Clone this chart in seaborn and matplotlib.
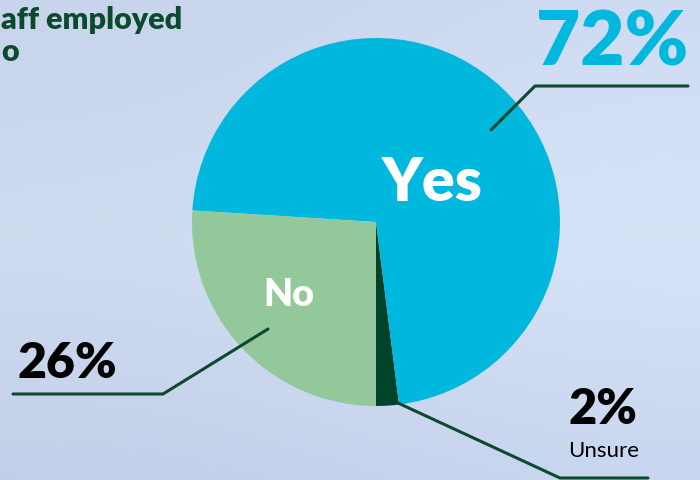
import numpy as np
import matplotlib
matplotlib.use("Agg")
import matplotlib.pyplot as plt
import seaborn as sns

sns.set_theme(style="white")
plt.rcParams['font.family'] = ['Lato', 'DejaVu Sans']

### Data ###
answers = ["Unsure", "Yes", "No"]
shares = [2, 72, 26]
colours = sns.color_palette(["#00432a", "#00b8de", "#93c89a"])

### Figure ###
fig = plt.figure(figsize=(7, 4.8), dpi=100)
ax = fig.add_axes([0, 0, 1, 1])

# sky background
sky = np.array([[0.78, 0.83, 0.92], [0.81, 0.86, 0.94], [0.76, 0.81, 0.91]])
yy = np.linspace(0, 1, 200)
grad = np.zeros((200, 2, 3))
for c in range(3):
    grad[:, 0, c] = np.interp(yy, [0, 0.5, 1], sky[::-1, c])
    grad[:, 1, c] = np.interp(yy, [0, 0.5, 1], sky[::-1, c]) + 0.03
ax.imshow(np.clip(grad, 0, 1), extent=[0, 700, 0, 480], origin='lower',
          aspect='auto', interpolation='bicubic', zorder=0)

wedges, _ = ax.pie(shares, colors=colours, startangle=-90, counterclock=True,
                   center=(376, 258), radius=184, frame=True,
                   wedgeprops=dict(linewidth=0, zorder=2))
ax.set_xlim(0, 700)
ax.set_ylim(0, 480)
ax.set_aspect('equal')
ax.axis('off')

line_c = "#0b4a2c"
# leader lines
ax.plot([491, 535, 688], [480 - 130, 480 - 86, 480 - 86], color=line_c, lw=2.2, zorder=3)
ax.plot([268, 163, 13], [480 - 329, 480 - 394, 480 - 394], color=line_c, lw=2.2, zorder=3)
ax.plot([398, 560, 648], [480 - 403, 480 - 478, 480 - 478], color=line_c, lw=2.2, zorder=3)

# labels
ax.text(612, 480 - 44, "72%", color="#00b8de", fontsize=55, fontweight='heavy',
        ha='center', va='center', zorder=4)
ax.text(432, 480 - 183, "Yes", color="white", fontsize=44, fontweight='heavy',
        ha='center', va='center', zorder=4)
ax.text(289, 480 - 295, "No", color="white", fontsize=27, fontweight='heavy',
        ha='center', va='center', zorder=4)
ax.text(67, 480 - 363, "26%", color="black", fontsize=36, fontweight='heavy',
        ha='center', va='center', zorder=4)
ax.text(603, 480 - 410, "2%", color="black", fontsize=35, fontweight='heavy',
        ha='center', va='center', zorder=4)
ax.text(604, 480 - 451, "Unsure", color="black", fontsize=16,
        ha='center', va='center', zorder=4)

# cut-off title
ax.text(1, 480 - 20, "aff employed", color="#0b4a2c", fontsize=22, fontweight='heavy',
        ha='left', va='center', zorder=4)
ax.text(1, 480 - 52, "o", color="#0b4a2c", fontsize=22, fontweight='heavy',
        ha='left', va='center', zorder=4)

fig.savefig("out.png", dpi=100)
